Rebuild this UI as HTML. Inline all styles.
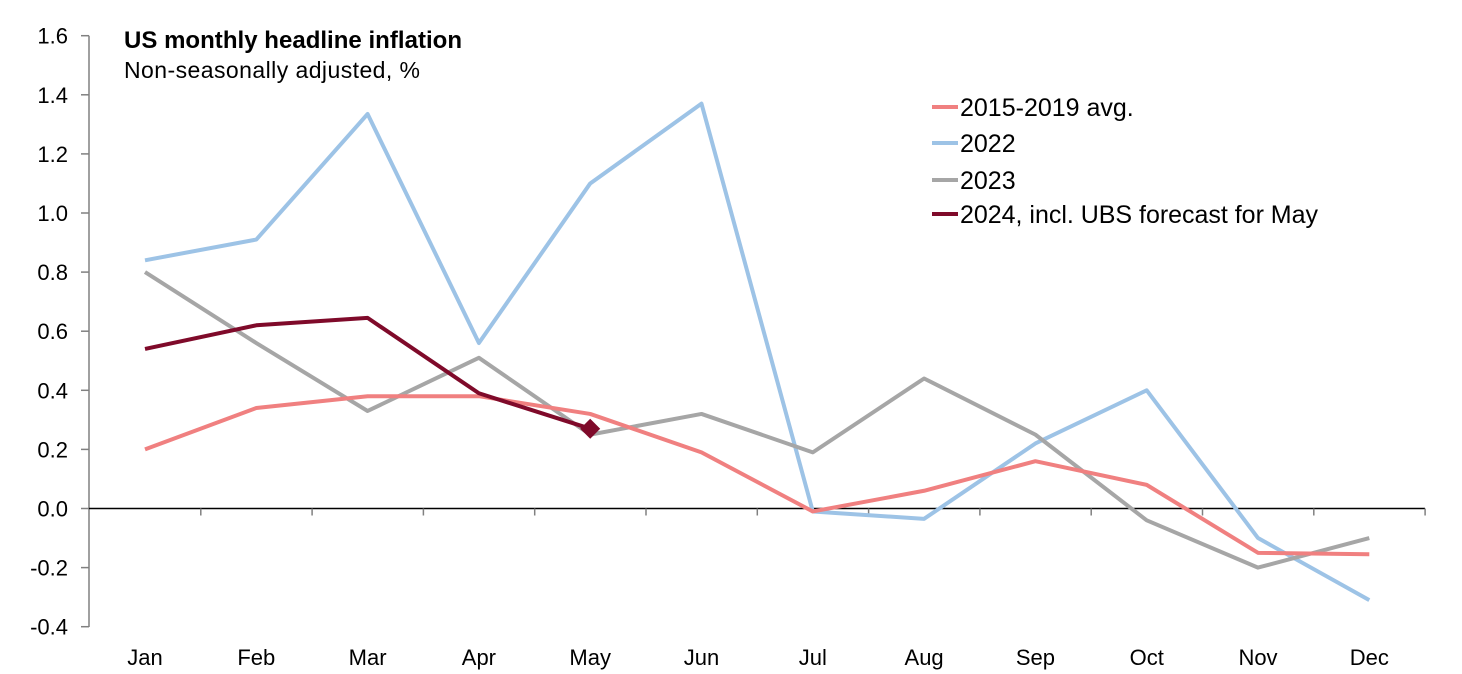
<!DOCTYPE html>
<html><head><meta charset="utf-8"><style>
body{margin:0;background:#fff}
svg{display:block;font-family:"Liberation Sans",Arial,sans-serif}
</style></head><body>
<svg id="s" width="1462" height="674" viewBox="0 0 1462 674" xmlns="http://www.w3.org/2000/svg">
<rect width="1462" height="674" fill="#fff"/>
<text x="124" y="48" font-size="24" font-weight="bold" fill="#000" textLength="338">US monthly headline inflation</text>
<text x="124" y="78" font-size="23" fill="#000" textLength="296">Non-seasonally adjusted, %</text>
<g id="g"></g>
<g font-size="25" fill="#000">
<line x1="932" y1="107" x2="958" y2="107" stroke="#f08080" stroke-width="4"/><text x="960" y="116">2015-2019 avg.</text>
<line x1="932" y1="143" x2="958" y2="143" stroke="#9dc3e6" stroke-width="4"/><text x="960" y="152">2022</text>
<line x1="932" y1="180" x2="958" y2="180" stroke="#a6a6a6" stroke-width="4"/><text x="960" y="189">2023</text>
<line x1="932" y1="214" x2="958" y2="214" stroke="#7f0a2a" stroke-width="4"/><text x="960" y="223" textLength="358">2024, incl. UBS forecast for May</text>
</g>
</svg>
<script>
const g=document.getElementById('g');
const Y=v=>508.5-v*295.5, X=i=>145+i*111.3;
let h='';
h+='<line x1="89" y1="35.7" x2="89" y2="627" stroke="#808080" stroke-width="1.5"/>';
for(let k=0;k<=10;k++){const v=1.6-k*0.2,y=Y(v);h+=`<line x1="81" y1="${y}" x2="89" y2="${y}" stroke="#808080" stroke-width="1.5"/>`;
h+=`<text x="68" y="${y+8}" font-size="22" text-anchor="end">${v.toFixed(1).replace('-0.0','0.0')}</text>`;}
h+=`<line x1="89" y1="${Y(0)}" x2="1425" y2="${Y(0)}" stroke="#000" stroke-width="1.5"/>`;
for(let k=1;k<=12;k++){const x=89.5+k*111.3;h+=`<line x1="${x}" y1="${Y(0)}" x2="${x}" y2="${Y(0)+7}" stroke="#808080" stroke-width="1.5"/>`;}
['Jan','Feb','Mar','Apr','May','Jun','Jul','Aug','Sep','Oct','Nov','Dec'].forEach((m,i)=>h+=`<text x="${X(i)}" y="665" font-size="22" text-anchor="middle">${m}</text>`);
const S=[["#9dc3e6",[0.84,0.91,1.335,0.56,1.10,1.37,-0.01,-0.035,0.22,0.40,-0.10,-0.31]],
["#a6a6a6",[0.80,0.56,0.33,0.51,0.25,0.32,0.19,0.44,0.25,-0.04,-0.20,-0.10]],
["#f08080",[0.20,0.34,0.38,0.38,0.32,0.19,-0.01,0.06,0.16,0.08,-0.15,-0.155]],
["#7f0a2a",[0.54,0.62,0.645,0.39,0.27]]];
S.forEach(([c,d])=>{h+=`<polyline fill="none" stroke="${c}" stroke-width="4" stroke-linejoin="round" points="${d.map((v,i)=>X(i)+','+Y(v)).join(' ')}"/>`;});
const dx=X(4),dy=Y(0.27);h+=`<polygon points="${dx},${dy-10} ${dx+10},${dy} ${dx},${dy+10} ${dx-10},${dy}" fill="#7f0a2a"/>`;
g.innerHTML=h;
</script>
</body></html>
